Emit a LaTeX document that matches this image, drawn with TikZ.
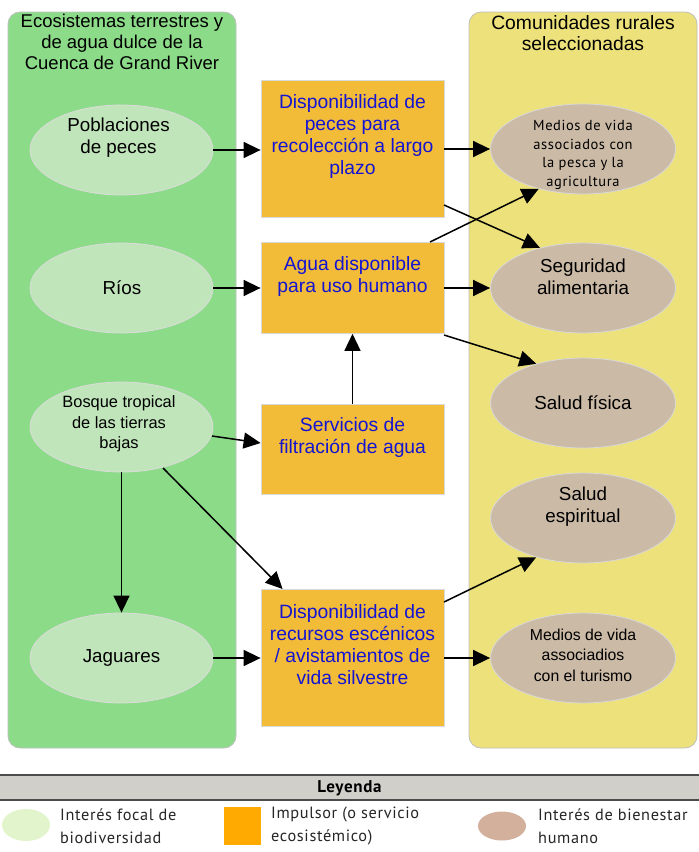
\documentclass[tikz,border=0pt]{standalone}
\usepackage{fontspec}
\setmainfont{Liberation Sans}
\newfontfamily\gill{PT Sans}[LetterSpace=4]
\usetikzlibrary{arrows.meta,shapes.geometric,calc}
\definecolor{panelgreen}{RGB}{140,219,136}
\definecolor{panelyellow}{RGB}{236,225,122}
\definecolor{ellgreen}{RGB}{193,229,187}
\definecolor{elltan}{RGB}{203,186,166}
\definecolor{boxorange}{RGB}{242,188,56}
\definecolor{txtblue}{RGB}{20,20,210}
\definecolor{legbar}{RGB}{208,207,202}
\definecolor{leggreen}{RGB}{226,244,204}
\definecolor{legorange}{RGB}{255,170,0}
\definecolor{legtan}{RGB}{210,176,156}
\tikzset{
  panel/.style={draw=black!25, line width=0.8pt, rounded corners=12pt},
  bio/.style={ellipse, draw=black!14, line width=0.8pt, fill=ellgreen, minimum width=183pt, minimum height=90pt, inner sep=0pt},
  human/.style={ellipse, draw=black!15, line width=0.8pt, fill=elltan, minimum width=185pt, minimum height=90pt, inner sep=0pt},
  driver/.style={rectangle, draw=black!15, line width=0.8pt, fill=boxorange, minimum width=183pt, inner sep=0pt},
  lbl/.style={align=center, inner sep=0pt, font=\fontsize{18.8}{22}\selectfont},
  blbl/.style={lbl, text=txtblue, font=\fontsize{19.3}{22}\selectfont},
  arr/.style={-{Triangle[length=17pt,width=16pt]}, line width=1.5pt},
  legtxt/.style={anchor=west, align=left, inner sep=0pt, font=\gill\fontsize{16.3}{23}\selectfont, text=black!85}
}
\begin{document}
\begin{tikzpicture}[x=1pt,y=-1pt]
\useasboundingbox (0,0) rectangle (699,852);
\fill[white] (0,0) rectangle (699,852);
% panels
\draw[panel, fill=panelgreen] (8,12) rectangle (236,748);
\draw[panel, fill=panelyellow] (469,12) rectangle (697,748);
\node[lbl, font=\fontsize{18.5}{21}\selectfont] (ttl) at (122,42) {Ecosistemas terrestres y\\de agua dulce de la\\Cuenca de Grand River};
\node[lbl, font=\fontsize{19.3}{21.5}\selectfont] (ttr) at (583,33) {Comunidades rurales\\seleccionadas};
% left ellipses
\node[bio] (pob) at (121.5,150) {};
\node[lbl] (pobt) at (118.5,137.5) {Poblaciones\\de peces};
\node[bio] (rios) at (121.5,288) {};
\node[lbl] (riost) at (122,288) {Ríos};
\node[bio] (bos) at (121.5,427) {};
\node[lbl, font=\fontsize{16.4}{20.5}\selectfont] (bost) at (119,424) {Bosque tropical\\de las tierras\\bajas};
\node[bio] (jag) at (121.5,658) {};
\node[lbl] (jagt) at (121.5,658) {Jaguares};
% driver boxes
\node[driver, minimum height=137pt, anchor=north] (b1) at (352.5,80) {};
\node[blbl] (b1t) at (352.5,137) {Disponibilidad de\\peces para\\recolección a largo\\plazo};
\node[driver, minimum height=91pt, anchor=north] (b2) at (352.5,242) {};
\node[blbl] (b2t) at (352.5,277) {Agua disponible\\para uso humano};
\node[driver, minimum height=90pt, anchor=north] (b3) at (352.5,404) {};
\node[blbl] (b3t) at (352.5,438) {Servicios de\\filtración de agua};
\node[driver, minimum height=137pt, anchor=north] (b4) at (352.5,589) {};
\node[blbl] (b4t) at (352.5,644.5) {Disponibilidad de\\recursos escénicos\\/ avistamientos de\\vida silvestre};
% right ellipses
\node[human] (e1) at (583,149) {};
\node[lbl, font=\gill\fontsize{14.5}{18.5}\selectfont] (e1t) at (583,155) {Medios de vida\\associados con\\la pesca y la\\agricultura};
\node[human] (e2) at (583,288) {};
\node[lbl] (e2t) at (583,277) {Seguridad\\alimentaria};
\node[human] (e3) at (583,403) {};
\node[lbl] (e3t) at (583,403) {Salud física};
\node[human] (e4) at (583,518) {};
\node[lbl] (e4t) at (583,507) {Salud\\espiritual};
\node[human] (e5) at (583,658) {};
\node[lbl, font=\fontsize{15.8}{20.5}\selectfont] (e5t) at (583,655) {Medios de vida\\associadios\\con el turismo};
% arrows
\draw[arr] (pob.east) -- (b1.west |- pob.east);
\draw[arr] (rios.east) -- (b2.west |- rios.east);
\coordinate (bosr) at (212,436);
\draw[arr] (bosr) -- (b3.west |- 0,443);
\draw[arr] (bos.south) -- (jag.north);
\coordinate (boss) at (163,468);
\draw[arr] (boss) -- ($(b4.north west)+(22,0)$);
\draw[arr] (jag.east) -- (b4.west |- jag.east);
\draw[arr] (b3.north) -- (b2.south);
\coordinate (b1r) at (444,149);
\draw[arr] (b1r) -- (e1.west);
\coordinate (b1d) at (444,205);
\draw[arr] (b1d) -- (e2.137);
\coordinate (b2u) at (430,242);
\draw[arr] (b2u) -- (e1.222);
\coordinate (b2r) at (444,288);
\draw[arr] (b2r) -- (e2.west);
\coordinate (b2d) at (444,335);
\draw[arr] (b2d) -- (e3.140);
\coordinate (b4u) at (444,602);
\draw[arr] (b4u) -- (e4.220);
\coordinate (b4r) at (444,658);
\draw[arr] (b4r) -- (e5.west);
% legend
\fill[legbar] (0,775) rectangle (699,800);
\draw[black!70, line width=1.6pt] (0,775) -- (699,775);
\draw[black!70, line width=1.6pt] (0,800) -- (699,800);
\node[font=\gill\bfseries\fontsize{17}{20}\selectfont] (leg) at (349.5,788) {Leyenda};
\node[ellipse, fill=leggreen, minimum width=48pt, minimum height=32pt, inner sep=0pt] (lg1) at (26,825) {};
\node[legtxt] (lt1) at (60,826) {Interés focal de\\biodiversidad};
\node[rectangle, fill=legorange, minimum width=37pt, minimum height=38pt, inner sep=0pt] (lg2) at (242.5,826) {};
\node[legtxt] (lt2) at (271,826) {Impulsor (o servicio\\ecosistémico)};
\node[ellipse, fill=legtan, minimum width=48pt, minimum height=29pt, inner sep=0pt] (lg3) at (502,826) {};
\node[legtxt] (lt3) at (538,826) {Interés de bienestar\\humano};
\end{tikzpicture}
\end{document}
